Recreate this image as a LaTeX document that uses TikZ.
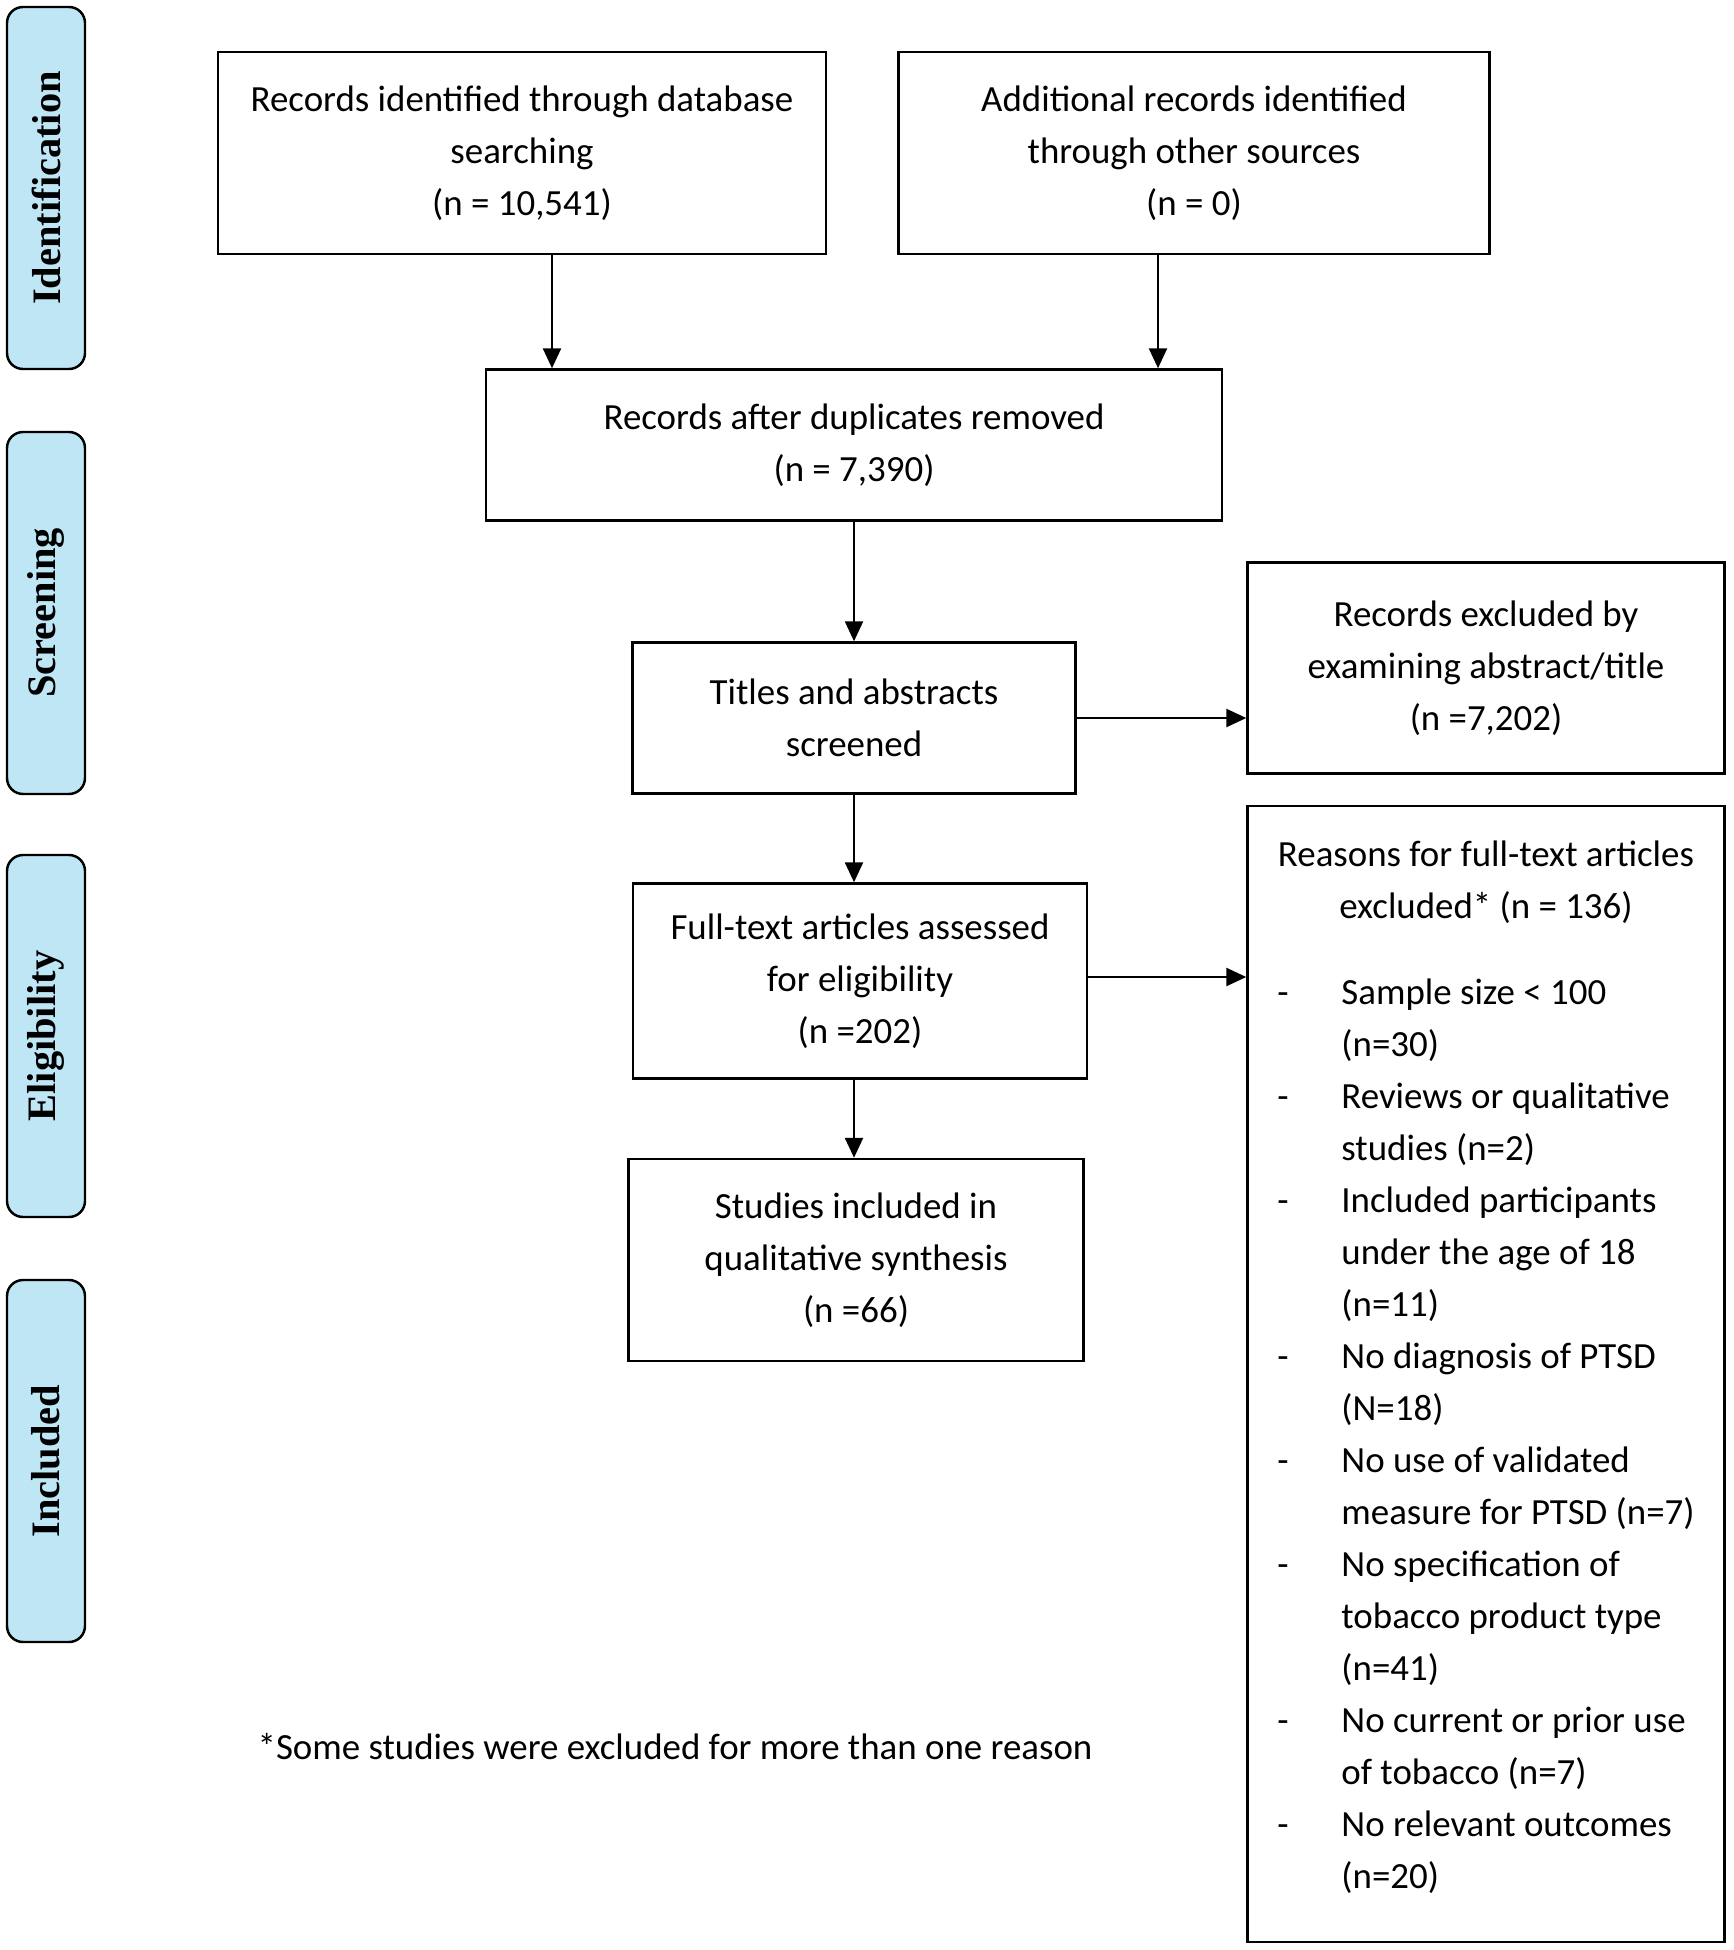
\documentclass[tikz,border=0pt]{standalone}
\usepackage{fontspec}
\setmainfont{Carlito}
\newfontfamily\stagefont{Liberation Serif}
\usetikzlibrary{arrows.meta,positioning}
\definecolor{stageblue}{RGB}{190,230,245}

\begin{document}
\begin{tikzpicture}[x=0.1mm, y=-0.1mm,
  box/.style={rectangle, draw=black, line width=0.7pt, align=center, inner sep=0pt, font=\fontsize{10.5}{14.8}\selectfont},
  stage/.style={rectangle, rounded corners=1.6mm, draw=black, line width=0.7pt, fill=stageblue, rotate=90, minimum width=36.2mm, minimum height=7.8mm, inner sep=0pt, font=\stagefont\bfseries\fontsize{11.5}{13}\selectfont},
  arrow/.style={-{Triangle[length=2mm,width=1.8mm]}, line width=0.7pt}]

  % Frame
  \useasboundingbox (0,0) rectangle (1734,1950);

  % Stages
  \foreach \name/\txt/\y in {ident/Identification/188, screen/Screening/613, elig/Eligibility/1036, incl/Included/1461}
    \node[stage] (stage-\name) at (46,\y) {\txt};

  % Identification
  \node[box, minimum width=60.8mm, minimum height=20.2mm] (db) at (522,153) {Records identified through database\\searching\\(n = 10,541)};
  \node[box, minimum width=59.1mm, minimum height=20.2mm] (other) at (1194,153) {Additional records identified\\through other sources\\(n = 0)};

  % Screening
  \node[box, minimum width=73.6mm, minimum height=15.1mm] (dup) at (854,445) {Records after duplicates removed\\(n = 7,390)};
  \node[box, minimum width=44.3mm, minimum height=15.1mm] (titles) at (854,718) {Titles and abstracts\\screened};
  \node[box, minimum width=47.7mm, minimum height=21.1mm] (excl) at (1486,668) {Records excluded by\\examining abstract/title\\(n =7,202)};

  % Eligibility
  \node[box, minimum width=45.4mm, minimum height=19.5mm] (fulltext) at (860,981) {Full-text articles assessed\\for eligibility\\(n =202)};
  \node[box, minimum width=47.7mm, minimum height=113.6mm] (reasons) at (1486,1374) {\raisebox{0.7mm}[\height][\depth]{\begin{tabular}{@{}p{6.4mm}@{}l@{}}
    \multicolumn{2}{@{}c@{}}{Reasons for full-text articles}\\
    \multicolumn{2}{@{}c@{}}{excluded* (n = 136)}\\[3.4mm]
    - & Sample size < 100\\
      & (n=30)\\
    - & Reviews or qualitative\\
      & studies (n=2)\\
    - & Included participants\\
      & under the age of 18\\
      & (n=11)\\
    - & No diagnosis of PTSD\\
      & (N=18)\\
    - & No use of validated\\
      & measure for PTSD (n=7)\\
    - & No specification of\\
      & tobacco product type\\
      & (n=41)\\
    - & No current or prior use\\
      & of tobacco (n=7)\\
    - & No relevant outcomes\\
      & (n=20)
  \end{tabular}}};

  % Included
  \node[box, minimum width=45.5mm, minimum height=20.2mm] (synth) at (856,1260) {Studies included in\\qualitative synthesis\\(n =66)};

  % Footnote
  \node[font=\fontsize{10.5}{14.8}\selectfont] (note) at (675,1747) {*Some studies were excluded for more than one reason};

  % Arrows
  \draw[arrow] ([xshift=3mm]db.south) -- ([xshift=3mm]db.south |- dup.north);
  \draw[arrow] ([xshift=-3.6mm]other.south) -- ([xshift=-3.6mm]other.south |- dup.north);
  \draw[arrow] (dup.south) -- (titles.north);
  \draw[arrow] (titles.east) -- (titles.east -| excl.west);
  \draw[arrow] (titles.south) -- (titles.south |- fulltext.north);
  \draw[arrow] ([yshift=0.4mm]fulltext.east) -- ([yshift=0.4mm]fulltext.east -| reasons.west);
  \draw[arrow] (titles.south |- fulltext.south) -- (titles.south |- synth.north);
\end{tikzpicture}
\end{document}
